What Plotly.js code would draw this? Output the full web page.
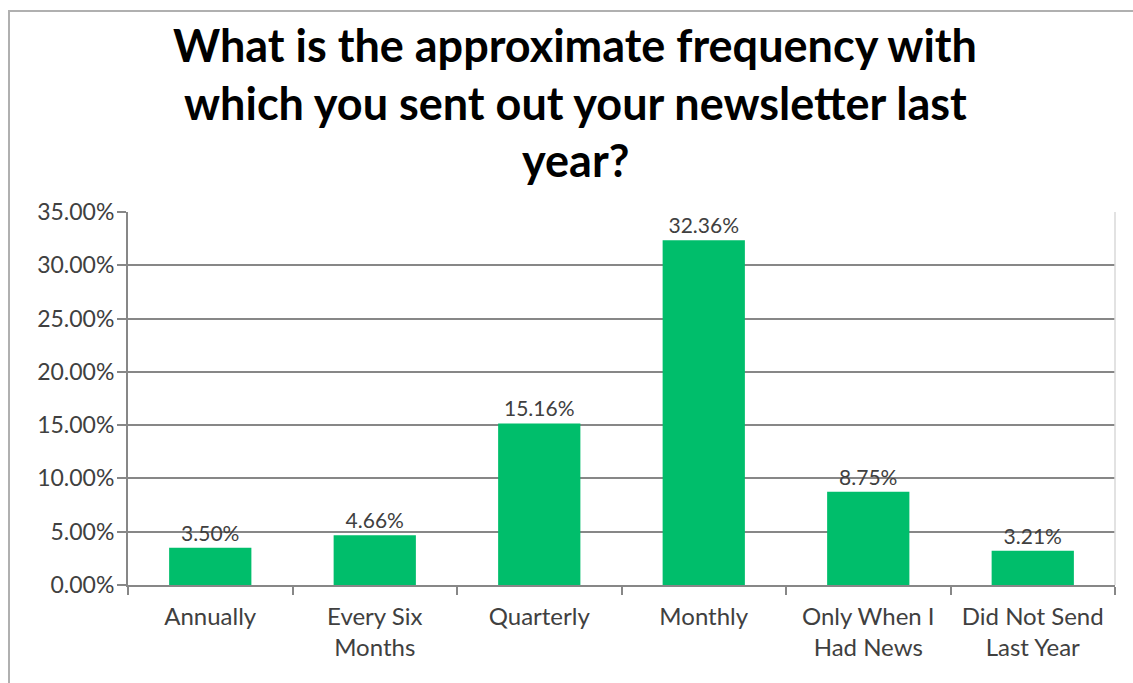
<!DOCTYPE html>
<html>
<head>
<meta charset="utf-8">
<script src="https://cdn.plot.ly/plotly-3.0.1.min.js"></script>
<style>
  html, body { margin: 0; padding: 0; background: #fff; overflow: hidden; }
  #wrap { position: relative; width: 1133px; height: 683px; }
  #frame { position: absolute; left: 8px; top: 10px; width: 1200px; height: 800px;
           border-left: 2px solid #b0b0b0; border-top: 2px solid #b0b0b0; pointer-events: none; }
  #chart { position: absolute; left: 0; top: 0; width: 1133px; height: 683px; }
</style>
</head>
<body>
<div id="wrap">
  <div id="chart"></div>
  <div id="frame"></div>
</div>
<script>
const categories = ["Annually", "Every Six<br>Months", "Quarterly", "Monthly", "Only When I<br>Had News", "Did Not Send<br>Last Year"];
const percentages = [3.50, 4.66, 15.16, 32.36, 8.75, 3.21];
const titleLines = ["What is the approximate frequency with", "which you sent out your newsletter last", "year?"];
const yTicks = [0, 5, 10, 15, 20, 25, 30, 35];

const textColor = "#404040";
const gridColor = "#878787";
const font = "Lato, 'Liberation Sans', sans-serif";

const trace = {
  type: "bar",
  x: categories,
  y: percentages,
  marker: { color: "#00BE6B", line: { width: 0 } },
  text: percentages.map(v => v.toFixed(2) + "%"),
  textposition: "outside",
  textfont: { family: font, size: 21, color: textColor },
  cliponaxis: false,
  hoverinfo: "x+y"
};

const titleY = [45, 103, 160];
const annotations = titleLines.map((t, i) => ({
  text: "<b>" + t + "</b>",
  xref: "paper", yref: "paper",
  x: (575 - 128) / (1115 - 128),
  y: (585 - titleY[i]) / (585 - 212),
  xanchor: "center", yanchor: "middle",
  showarrow: false,
  font: { family: font, size: 45, color: "#000" }
}));

const layout = {
  width: 1133, height: 683,
  margin: { l: 128, r: 18, t: 212, b: 98, pad: 0 },
  paper_bgcolor: "rgba(0,0,0,0)",
  plot_bgcolor: "#fff",
  bargap: 0.5,
  showlegend: false,
  annotations: annotations,
  xaxis: {
    type: "category",
    tickson: "boundaries",
    ticks: "outside", ticklen: 8, tickwidth: 2, tickcolor: gridColor,
    showline: true, linecolor: gridColor, linewidth: 2,
    showgrid: false,
    tickfont: { family: font, size: 24, color: textColor },
    ticklabelstandoff: 9,
    fixedrange: true
  },
  yaxis: {
    range: [0, 35],
    tickvals: yTicks,
    ticktext: yTicks.map(v => v.toFixed(2) + "%"),
    ticks: "outside", ticklen: 9, tickwidth: 2, tickcolor: gridColor,
    showline: true, linecolor: gridColor, linewidth: 2,
    showgrid: true, gridcolor: gridColor, gridwidth: 2,
    zeroline: false,
    tickfont: { family: font, size: 23, color: textColor },
    ticklabelstandoff: -2,
    fixedrange: true
  },
  shapes: [{
    type: "line", xref: "paper", yref: "paper",
    x0: 1, x1: 1, y0: 0, y1: 1,
    line: { color: "#d9d9d9", width: 1.5 }
  }]
};

Plotly.newPlot("chart", [trace], layout, { displayModeBar: false, staticPlot: false });
</script>
</body>
</html>
